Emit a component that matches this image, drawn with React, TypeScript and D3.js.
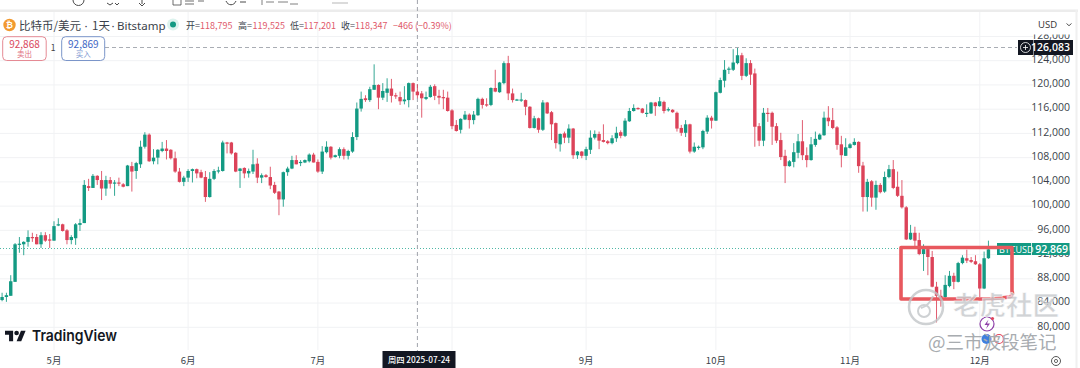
import React from "react";
import * as d3 from "d3";

// OHLC in thousand USD, daily, starting 2025-04-19
const firstDay = new Date(Date.UTC(2025, 3, 19));
const opens = [
84.5,85.0,85.2,87.5,93.6,93.7,94.1,94.9,94.9,93.7,
95.2,94.5,94.3,96.8,97.0,96.0,94.4,94.7,96.9,97.2,
103.3,103.0,105.0,104.3,102.9,104.3,103.8,103.9,103.6,103.3,
106.6,105.8,106.9,109.8,111.8,107.4,108.0,109.1,109.5,109.3,
107.9,105.7,104.0,104.7,105.8,106.1,105.6,104.8,101.5,104.5,
105.8,105.8,110.5,110.5,108.8,105.8,106.3,105.4,105.7,107.0,
104.7,105.1,104.8,103.5,102.4,101.1,105.6,106.2,107.6,107.1,
107.2,107.4,108.5,107.3,105.7,108.9,109.8,108.1,108.3,109.4,
108.3,109.0,111.4,116.1,117.8,117.5,119.2,120.0,117.9,118.7,
119.4,118.3,118.0,117.3,117.5,120.3,118.9,118.6,117.7,118.0,
119.8,118.2,118.0,117.9,115.8,113.4,112.6,114.3,115.1,114.2,
115.0,117.7,116.8,116.7,119.5,118.8,120.3,123.6,118.6,117.5,
117.5,117.5,116.4,112.9,114.5,112.6,117.1,115.5,113.7,110.2,
112.0,111.3,112.8,108.4,109.0,108.3,109.3,111.3,111.9,110.9,
110.7,110.4,111.2,112.2,111.6,114.0,115.7,116.2,116.1,115.3,
115.3,117.1,116.5,117.2,115.8,115.9,115.4,112.9,112.1,113.5,
109.0,109.7,109.7,112.3,114.6,114.1,118.7,120.7,122.5,122.5,
123.6,124.9,121.5,123.6,121.9,113.2,110.8,115.4,115.4,113.2,
110.9,108.3,106.6,107.3,108.8,110.7,108.4,107.6,110.1,111.0,
111.7,114.6,114.2,113.0,110.2,108.3,109.6,110.1,110.6,106.7,
101.5,104.1,101.4,103.5,102.4,104.8,106.1,103.2,101.7,99.8,
94.5,95.6,94.4,92.1,92.9,91.6,86.7,85.2,85.0,86.8,
88.5,87.5,90.6,91.4,91.1,90.9,90.4,86.4,91.4];
const highs = [
85.7,85.7,88.6,93.9,94.9,94.2,96.0,95.6,95.4,95.7,
95.7,95.4,97.5,98.0,97.1,96.2,95.2,97.2,97.9,104.3,
104.5,105.3,105.1,105.8,105.0,104.8,104.3,104.7,103.8,106.8,
107.3,107.3,110.8,112.2,112.0,109.4,109.4,110.6,110.9,109.4,
109.0,106.3,105.0,106.1,106.2,106.2,106.0,105.8,105.6,106.1,
106.5,110.8,110.6,110.6,108.9,106.3,106.4,106.2,109.3,107.9,
105.4,105.3,106.5,104.0,102.5,105.7,106.5,108.3,108.4,107.6,
107.7,108.7,108.8,107.7,109.9,110.7,109.9,108.5,109.7,109.7,
109.3,112.2,117.1,118.9,118.3,119.7,123.4,120.1,120.3,121.1,
121.0,118.7,118.9,119.8,120.4,120.4,120.1,119.0,118.9,120.0,
120.1,119.2,119.2,118.9,116.0,114.2,114.5,115.7,115.3,115.7,
117.9,117.9,117.8,119.6,122.5,120.5,123.9,124.8,119.4,117.7,
118.7,117.6,116.5,114.9,114.6,117.5,117.2,115.7,113.8,112.0,
112.3,113.5,112.9,109.1,109.1,109.8,112.5,112.5,112.3,113.5,
110.9,111.7,113.1,112.5,114.5,116.2,116.8,116.3,116.2,116.8,
117.2,117.2,118.0,117.4,116.3,116.0,115.6,113.4,114.2,113.6,
110.5,110.0,112.6,115.0,114.9,118.9,121.2,124.1,123.0,125.9,
126.1,125.3,124.4,124.1,122.7,113.7,116.2,116.2,115.6,113.7,
112.1,109.3,107.6,110.4,111.9,114.2,109.7,111.4,112.3,112.0,
115.6,116.5,116.2,113.2,111.6,111.2,110.4,111.2,110.7,107.3,
104.5,104.3,104.2,103.8,105.7,106.8,107.6,105.7,104.3,100.0,
96.9,96.6,95.6,93.7,93.2,92.6,87.5,86.2,88.6,89.3,
89.0,90.8,91.9,92.8,91.6,91.9,90.6,92.5,94.3];
const lows = [
84.3,84.2,85.2,87.5,92.3,91.9,93.3,94.1,93.7,93.1,
94.1,93.1,94.3,96.7,95.8,93.7,93.7,93.6,95.9,97.2,
102.5,103.0,103.5,101.0,101.7,102.9,101.7,103.3,103.1,103.3,
102.4,104.5,106.3,109.5,107.3,106.9,106.9,108.9,107.7,107.7,
105.5,103.9,103.3,104.0,103.9,104.6,104.6,100.7,101.4,104.3,
105.4,105.7,108.7,108.5,105.6,103.0,104.6,104.7,105.3,103.8,
103.8,104.7,102.8,102.0,98.5,99.9,105.0,106.1,106.9,106.6,
107.1,107.2,107.2,105.5,105.3,108.7,107.7,108.0,107.9,107.7,
107.7,108.8,110.9,115.6,117.2,117.2,119.2,116.0,117.5,117.2,
117.1,117.7,116.7,116.8,116.3,117.5,117.8,114.6,117.5,117.9,
117.5,116.8,116.0,115.6,112.7,112.3,112.0,114.2,112.8,113.5,
114.9,116.1,116.4,116.5,118.8,118.7,120.1,117.5,117.1,117.4,
117.2,115.0,112.8,112.8,112.1,112.4,115.2,110.9,109.5,109.0,
110.4,110.4,107.8,107.8,107.9,107.6,108.6,111.0,109.4,110.5,
110.2,110.2,110.6,111.2,111.4,113.9,115.6,115.9,115.3,114.7,
115.2,114.9,116.4,115.3,115.6,115.4,112.3,111.6,111.4,108.7,
108.8,109.3,109.4,111.9,112.8,114.1,118.6,119.6,121.8,122.3,
123.4,120.8,121.3,120.0,109.8,109.9,109.9,113.9,110.1,110.4,
107.6,103.8,106.5,106.4,107.9,107.6,106.4,107.5,109.8,110.9,
111.6,113.2,112.7,109.3,106.4,108.3,109.5,110.0,105.5,99.1,
99.1,99.9,99.4,102.1,102.2,104.6,102.8,101.5,99.6,94.4,
94.4,93.3,91.9,89.3,88.6,86.6,80.8,83.4,84.5,86.6,
86.3,87.4,90.4,90.6,90.6,90.3,85.0,86.3,91.3];
const closes = [
85.0,85.3,87.6,93.7,93.8,94.1,94.9,94.7,93.7,95.2,
94.3,94.4,96.7,97.0,95.9,94.4,94.9,97.0,97.2,103.5,
103.0,105.0,104.3,102.9,104.3,103.7,103.9,103.7,103.2,106.7,
105.7,107.1,109.8,111.8,107.4,108.0,109.3,109.5,109.1,107.9,
105.7,104.0,104.7,105.8,106.1,105.4,104.7,101.5,104.5,105.8,
105.9,110.5,110.4,108.7,105.7,106.2,105.4,105.8,106.9,104.7,
105.1,104.8,103.4,102.2,101.1,105.6,106.2,107.6,106.9,107.3,
107.6,108.5,107.2,105.7,109.0,109.8,108.0,108.4,109.4,108.3,
109.1,111.4,116.1,117.7,117.5,119.3,120.0,117.9,119.0,119.4,
118.2,118.1,117.3,117.6,120.3,118.9,118.3,117.8,118.0,119.7,
118.2,117.9,117.8,115.7,113.2,112.4,114.4,115.1,114.2,115.1,
117.7,116.7,116.6,119.5,118.9,120.4,123.6,118.6,117.5,117.6,
117.6,116.4,112.9,114.5,112.6,117.1,115.3,113.5,110.4,111.9,
111.3,112.8,108.4,109.0,108.3,109.4,111.3,111.9,110.8,110.6,
110.4,111.2,112.1,111.6,114.1,115.7,116.2,116.0,115.4,115.4,
117.1,116.5,117.3,115.7,116.0,115.5,112.8,112.1,113.5,109.0,
109.8,109.8,112.4,114.6,114.1,118.8,120.8,122.5,122.7,123.7,
124.9,121.5,123.6,121.7,113.1,110.8,115.4,115.3,113.1,110.8,
108.1,106.6,107.4,108.9,110.7,108.4,107.6,110.2,111.1,111.8,
114.6,114.0,112.9,110.1,108.4,109.7,110.2,110.6,106.6,101.5,
104.0,101.4,103.5,102.3,104.8,106.1,103.0,101.7,99.8,94.5,
95.6,94.3,92.1,92.9,91.6,86.7,85.2,84.5,87.0,88.5,
87.5,90.6,91.5,91.0,90.8,90.4,86.4,91.4,92.869];

const priceTicks = [128000,124000,120000,116000,112000,108000,104000,100000,96000,92000,88000,84000,80000];
const monthTicks = [
  { date: new Date(Date.UTC(2025,4,1)), label: "5月" },
  { date: new Date(Date.UTC(2025,5,1)), label: "6月" },
  { date: new Date(Date.UTC(2025,6,1)), label: "7月" },
  { date: new Date(Date.UTC(2025,7,1)), label: "" },
  { date: new Date(Date.UTC(2025,8,1)), label: "9月" },
  { date: new Date(Date.UTC(2025,9,1)), label: "10月" },
  { date: new Date(Date.UTC(2025,10,1)), label: "11月" },
  { date: new Date(Date.UTC(2025,11,1)), label: "12月" },
];
const highMark = 126083;
const lastPrice = 92869;
const crossDate = new Date(Date.UTC(2025,6,24));

const GREEN = "#139a83";
const RED = "#dc4359";
const SANS = "'Noto Sans CJK SC','Noto Sans',sans-serif";

const x = d3.scaleUtc().domain([new Date(Date.UTC(2025,4,1)), new Date(Date.UTC(2025,10,1))]).range([54, 850]);
const y = d3.scaleLinear().domain([124000, 80000]).range([60.7, 327.3]);
const fmt = d3.format(",");

export default function App() {
  const candles = opens.map((o, i) => ({
    cx: x(d3.utcDay.offset(firstDay, i)),
    o: o * 1000, h: highs[i] * 1000, l: lows[i] * 1000, c: closes[i] * 1000,
  }));
  const crossX = x(crossDate);
  const yHigh = Math.round(y(highMark)) - 0.5;
  const yLast = Math.round(y(lastPrice)) - 0.5;
  return (
    <svg width={1080} height={368} viewBox="0 0 1080 368"
      style={{ position: "fixed", left: 0, top: 0, display: "block", background: "#fff" }}
      fontFamily={SANS}>
      {/* top toolbar fragments and frame */}
      <g stroke="#4a4a4a" fill="none" strokeWidth={1}>
        <path d="M73 0a5.500 5.500 0 0 0 11 0" />
        <path d="M107 3l3 2 3-2 M115 3l2 2 2-2" />
        <path d="M142 0v4 M139 3l3 3 3-3" />
        <path d="M173 0v5h8v-5 M185 1h9 M185 4h9 M198 1h6" opacity={0.8} />
        <path d="M226 1c2 5 8 5 10 0 M240 2h6" />
        <path d="M262 0v5 M266 2h8 M278 2h10 M290 4h8" opacity={0.7} />
        <path d="M332 3h16" opacity={0.4} />
      </g>
      <rect x={0} y={9.500} width={1078} height={2.500} fill="#ececec" />
      <rect x={1075.500} y={10} width={2} height={358} fill="#f0f0f0" />

      {/* grid */}
      <g stroke="#f1f2f4" strokeWidth={1}>
        {priceTicks.map(t => <line key={t} x1={0} x2={1033} y1={y(t)} y2={y(t)} />)}
        {monthTicks.map((m, i) => <line key={i} x1={x(m.date)} x2={x(m.date)} y1={12} y2={350} />)}
      </g>

      {/* price axis labels */}
      <g fontSize={10.500} fill="#3a3f4a" textAnchor="end" fontFamily="'Open Sans',sans-serif">
        {priceTicks.map(t => <text key={t} x={1070} y={y(t) + 2.300}>{fmt(t)}</text>)}
      </g>
      <rect x={1030} y={12} width={45} height={22.500} fill="#fff" />
      <text x={1038} y={28} fontSize={9.500} fill="#333" fontFamily="'Open Sans',sans-serif">USD</text>
      <path d="M1066.500 23.500l2.500 2.200 2.500-2.200" fill="none" stroke="#555" strokeWidth={1} />

      {/* high marker */}
      <line x1={105} x2={1017} y1={yHigh} y2={yHigh} stroke="#a9adb4" strokeWidth={1} strokeDasharray="4 3" />
      <rect x={1018} y={40} width={15.500} height={15} fill="#131722" />
      <circle cx={1025.500} cy={47.500} r={5} fill="none" stroke="#fff" strokeWidth={0.800} />
      <path d="M1023 47.500h5M1025.500 45v5" stroke="#fff" strokeWidth={0.800} />
      <rect x={1034} y={40} width={39} height={15} fill="#131722" />
      <text x={1070} y={51} fontSize={10.500} fill="#fff" textAnchor="end" fontFamily="'Open Sans',sans-serif" fontWeight={600}>{fmt(highMark)}</text>

      {/* last price line */}
      <line x1={0} x2={997} y1={yLast} y2={yLast} stroke="#4fb8a6" strokeWidth={1} strokeDasharray="1 2" />

      {/* crosshair */}
      <line x1={crossX} x2={crossX} y1={0} y2={351} stroke="#a0a4ac" strokeWidth={1} strokeDasharray="4 3" />

      {/* candles */}
      <g>
        {candles.map((k, i) => {
          const col = k.c >= k.o ? GREEN : RED;
          const top = y(Math.max(k.o, k.c));
          const bot = y(Math.min(k.o, k.c));
          return (
            <g key={i}>
              <line x1={k.cx} x2={k.cx} y1={y(k.h)} y2={y(k.l)} stroke={col} strokeWidth={1} opacity={0.85} />
              <rect x={k.cx - 1.700} y={top} width={3.400} height={Math.max(bot - top, 1.200)} fill={col} />
            </g>
          );
        })}
      </g>

      {/* header */}
      <circle cx={9.500} cy={25} r={6.200} fill="#f29a30" />
      <text x={9.500} y={28} fontSize={8.500} fill="#fff" textAnchor="middle" fontWeight={700} fontFamily="'DejaVu Sans',sans-serif">₿</text>
      <g fontSize={11.500} fill="#3a3f4a">
        <text x={19} y={29.500}>比特币/美元</text>
        <text x={84.500} y={29.500} fontFamily="'Noto Sans',sans-serif">·</text>
        <text x={92} y={29.500}>1天</text>
        <text x={111.500} y={29.500} fontFamily="'Noto Sans',sans-serif">·</text>
        <text x={117} y={29.500} fontFamily="'Noto Sans',sans-serif">Bitstamp</text>
      </g>
      <circle cx={173} cy={24.500} r={6} fill="#dcf3ee" />
      <circle cx={173} cy={24.500} r={3} fill={GREEN} />
      <g fontSize={9}>
        <text x={186} y={28.500} fill="#3a3f4a">开=</text>
        <text x={200} y={28.500} fill="#e0596a">118,795</text>
        <text x={238} y={28.500} fill="#3a3f4a">高=</text>
        <text x={252.500} y={28.500} fill="#e0596a">119,525</text>
        <text x={290} y={28.500} fill="#3a3f4a">低=</text>
        <text x={303.500} y={28.500} fill="#e0596a">117,201</text>
        <text x={341} y={28.500} fill="#3a3f4a">收=</text>
        <text x={355} y={28.500} fill="#e0596a">118,347</text>
        <text x={393} y={28.500} fill="#e0596a">−466 (−0.39%)</text>
      </g>

      {/* buy / sell */}
      <rect x={2.700} y={36.700} width={43.500} height={23.800} rx={4} fill="#fff" stroke="#e58a94" />
      <text x={24.500} y={47.500} fontSize={10} fill="#d9475c" textAnchor="middle">92,868</text>
      <text x={24.500} y={57} fontSize={7.500} fill="#e0707f" textAnchor="middle">卖出</text>
      <text x={53} y={51} fontSize={8.500} fill="#444" textAnchor="middle">1</text>
      <rect x={61.700} y={36.700} width={43} height={23.800} rx={4} fill="#fff" stroke="#7b95c9" />
      <text x={83.300} y={47.500} fontSize={10} fill="#3d66c4" textAnchor="middle">92,869</text>
      <text x={83.300} y={57} fontSize={7.500} fill="#7a95d0" textAnchor="middle">买入</text>

      {/* time axis labels */}
      <g fontSize={9.500} fill="#3a3f4a" textAnchor="middle">
        {monthTicks.filter(m => m.label).map(m => <text key={m.label} x={x(m.date)} y={364}>{m.label}</text>)}
      </g>
      <rect x={382.500} y={351} width={73} height={17} fill="#131722" />
      <text x={419} y={363} fontSize={8.300} fill="#fff" textAnchor="middle" fontWeight={500}>周四 2025-07-24</text>
      <circle cx={1056} cy={361} r={4.500} fill="none" stroke="#444" strokeWidth={0.900} />
      <circle cx={1056} cy={361} r={1.600} fill="none" stroke="#444" strokeWidth={0.800} />

      {/* logo */}
      <g transform="translate(5,328.400) scale(0.58)" fill="#131722">
        <path d="M14 22H7V11H0V4h14v18zM28 22h-8l7.500-18h8L28 22z" />
        <circle cx={20} cy={8} r={4} />
      </g>
      <text x={32} y={341} fontSize={15} fontWeight={600} fill="#131722" fontFamily="Inter,Roboto,sans-serif" textLength={85} lengthAdjust="spacingAndGlyphs">TradingView</text>

      {/* last price tag */}
      <rect x={997} y={243} width={72.500} height={12} fill={GREEN} />
      <line x1={1031.500} x2={1031.500} y1={243} y2={255} stroke="#fff" strokeWidth={0.800} />
      <text x={999} y={252.500} fontSize={9} fill="#fff" fontFamily="'Open Sans',sans-serif">BTCUSD</text>
      <text x={1068} y={252.700} fontSize={10.500} fill="#fff" textAnchor="end" fontWeight={600} fontFamily="'Open Sans',sans-serif">{fmt(lastPrice)}</text>

      {/* hand-drawn rectangle */}
      <path d="M901 247.500H1012V291Q1013.500 295 1010 297L990 299H901Z"
        fill="none" stroke="#e8585e" strokeWidth={3.600} strokeLinejoin="round" />

      {/* app icons */}
      <circle cx={987} cy={324} r={7} fill="#fff" stroke="#8e3fa8" strokeWidth={1.200} />
      <path d="M988.500 319.500l-4 5.500h3l-1.500 4 4-5.500h-3z" fill="#8e3fa8" />
      <circle cx={992.500} cy={318.500} r={1.600} fill="#e0455a" />
      <circle cx={986.500} cy={339} r={5} fill="#3f7fe0" />
      <circle cx={999} cy={339} r={4.500} fill="#fff" stroke="#e0455a" strokeWidth={1.200} />

      {/* watermark */}
      <g opacity={0.8}>
        <circle cx={926} cy={307} r={17} fill="none" stroke="#c3c6c9" strokeWidth={2.500} />
        <circle cx={924} cy={311} r={6} fill="none" stroke="#c3c6c9" strokeWidth={2} />
        <path d="M933 296q-4 10-12 12" fill="none" stroke="#c3c6c9" strokeWidth={2} />
        <text x={953} y={315} fontSize={26.500} fill="#c6c9cc" stroke="#fff" strokeWidth={0.600} fontFamily="'Noto Sans CJK SC',sans-serif" fontWeight={700}>老虎社区</text>
      </g>
      <text x={928} y={349} fontSize={18.500} fill="#a8acb0" fontFamily="'Noto Sans CJK SC',sans-serif">@三市波段笔记</text>
    </svg>
  );
}
